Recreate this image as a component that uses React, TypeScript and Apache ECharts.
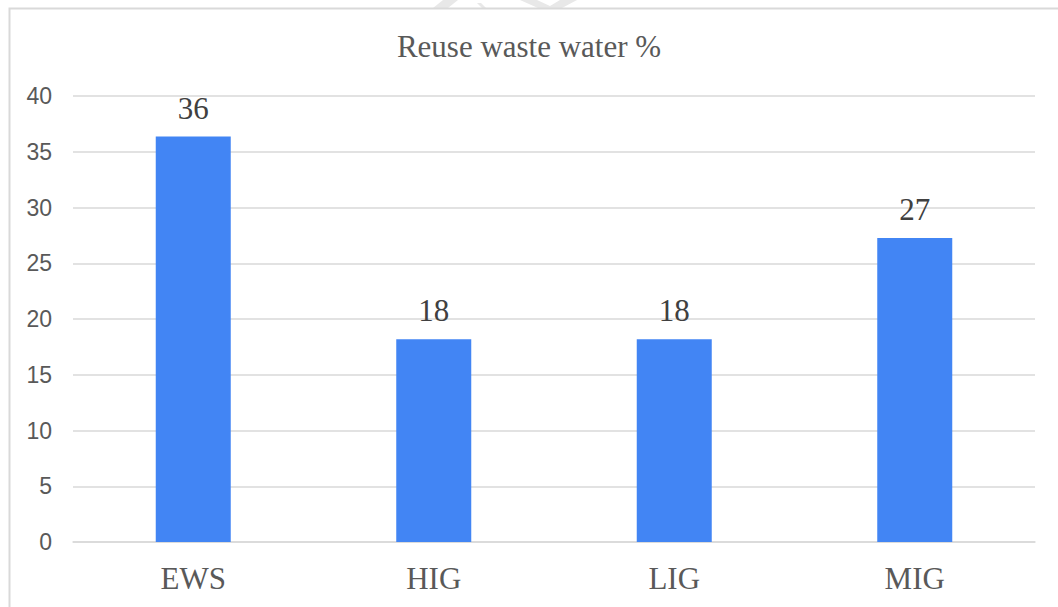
import React, { useEffect, useRef } from "react";
import * as echarts from "echarts";

const titleText = "Reuse waste water %";
const categories = ["EWS", "HIG", "LIG", "MIG"];
const values = [36.36, 18.18, 18.18, 27.27];
const yMin = 0;
const yMax = 40;
const yStep = 5;

const SERIF = "'Liberation Serif', 'Times New Roman', serif";
const SANS = "'Liberation Sans', Arial, sans-serif";

export default function App() {
  const ref = useRef<HTMLDivElement>(null);
  useEffect(() => {
    if (!ref.current) return;
    const chart = echarts.init(ref.current, null, { renderer: "svg" });
    chart.setOption({
      animation: false,
      backgroundColor: "#ffffff",
      title: {
        text: titleText,
        left: "center",
        top: 26,
        textStyle: { fontFamily: SERIF, fontSize: 31, fontWeight: "normal", color: "#595959" },
      },
      graphic: [
        {
          type: "polygon",
          shape: { points: [[433, 8], [448, 8], [458, 0], [443, 0]] },
          style: { fill: "#e8e8e8" },
          silent: true,
        },
        {
          type: "polygon",
          shape: { points: [[477, 3], [481, 3], [486, 8], [482, 8]] },
          style: { fill: "#e8e8e8" },
          silent: true,
        },
        {
          type: "polygon",
          shape: { points: [[520, 0], [537, 0], [550, 6], [560, 0], [577, 0], [562, 8], [538, 8]] },
          style: { fill: "#e8e8e8" },
          silent: true,
        },
        {
          type: "rect",
          shape: { x: 9.5, y: 8.5, width: 1100, height: 700 },
          style: { fill: "none", stroke: "#d9d9d9", lineWidth: 2 },
          silent: true,
        },
      ],
      grid: { left: 73, right: 23, top: 96, bottom: 65, containLabel: false },
      xAxis: {
        type: "category",
        data: categories,
        axisLine: { show: true, lineStyle: { color: "#d9d9d9", width: 1.5 } },
        axisTick: { show: false },
        axisLabel: { fontFamily: SERIF, fontSize: 31, color: "#595959", margin: 21 },
      },
      yAxis: {
        type: "value",
        min: yMin,
        max: yMax,
        interval: yStep,
        axisLine: { show: false },
        axisTick: { show: false },
        splitLine: { lineStyle: { color: "#d9d9d9", width: 1.5 } },
        axisLabel: { fontFamily: SANS, fontSize: 23, color: "#595959", margin: 21 },
      },
      series: [
        {
          type: "bar",
          data: values,
          barWidth: 75,
          itemStyle: { color: "#4285F4" },
          label: {
            show: true,
            position: "top",
            distance: 13,
            fontFamily: SERIF,
            fontSize: 31,
            color: "#404040",
            formatter: (p: any) => String(Math.round(p.value)),
          },
        },
      ],
    });
    return () => chart.dispose();
  }, []);
  return (
    <div
      ref={ref}
      style={{ position: "fixed", left: 0, top: 0, width: 1058, height: 607 }}
    />
  );
}
